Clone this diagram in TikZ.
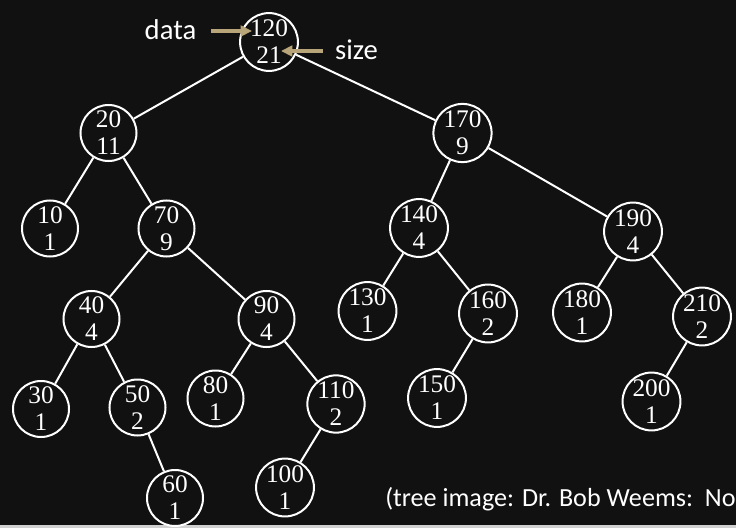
\documentclass[tikz,border=0pt]{standalone}
\usepackage{fontspec}
\setmainfont{Liberation Serif}
\newfontfamily\labelfont{Carlito}
\usetikzlibrary{arrows.meta}
\definecolor{bg}{RGB}{17,17,17}
\definecolor{strip}{RGB}{208,208,208}
\definecolor{tan}{RGB}{185,165,122}
\tikzset{
  tnode/.style={circle, draw=white, line width=1.5pt, minimum size=42pt, inner sep=0pt,
    text=white, align=center, font=\fontsize{19}{20.25}\selectfont},
  tedge/.style={draw=white, line width=1.5pt},
  lbl/.style={text=white, inner sep=0pt, font=\labelfont\fontsize{21.5}{24}\selectfont},
  pointer/.style={draw=tan, line width=3pt, -{Triangle[length=8.5pt,width=8pt]}},
  credit/.style={text=white, inner sep=0pt, anchor=base west, font=\labelfont\fontsize{19.6}{24}\selectfont}
}
\begin{document}
\begin{tikzpicture}[x=0.75pt,y=-0.75pt]
\useasboundingbox (0,0) rectangle (736,528);
\fill[bg] (0,0) rectangle (736,528);
\fill[strip] (0,525) rectangle (736,528);
\clip (0,0) rectangle (736,528);
% nodes
\node[tnode] (n120) at (269,42) {120\\21};
\node[tnode] (n20) at (108.5,133) {20\\11};
\node[tnode] (n170) at (462.5,133) {170\\9};
\node[tnode] (n10) at (50,228.5) {10\\1};
\node[tnode] (n70) at (166.5,228.5) {70\\9};
\node[tnode] (n140) at (419,228) {140\\4};
\node[tnode] (n190) at (633,231.5) {190\\4};
\node[tnode] (n40) at (91.5,319) {40\\4};
\node[tnode] (n90) at (266.5,319) {90\\4};
\node[tnode] (n130) at (367.5,311) {130\\1};
\node[tnode] (n160) at (488,313.5) {160\\2};
\node[tnode] (n180) at (582,312.5) {180\\1};
\node[tnode] (n210) at (702,316.5) {210\\2};
\node[tnode] (n30) at (41,409) {30\\1};
\node[tnode] (n50) at (137.5,407.5) {50\\2};
\node[tnode] (n80) at (215.5,398.5) {80\\1};
\node[tnode] (n110) at (336,404) {110\\2};
\node[tnode] (n150) at (437,398) {150\\1};
\node[tnode] (n200) at (651.5,401.5) {200\\1};
\node[tnode] (n60) at (175,498) {60\\1};
\node[tnode] (n100) at (285,487.5) {100\\1};
% edges
\draw[tedge] (n120) -- (n20);
\draw[tedge] (n120) -- (n170);
\draw[tedge] (n20) -- (n10);
\draw[tedge] (n20) -- (n70);
\draw[tedge] (n70) -- (n40);
\draw[tedge] (n70) -- (n90);
\draw[tedge] (n40) -- (n30);
\draw[tedge] (n40) -- (n50);
\draw[tedge] (n50) -- (n60);
\draw[tedge] (n90) -- (n80);
\draw[tedge] (n90) -- (n110);
\draw[tedge] (n110) -- (n100);
\draw[tedge] (n170) -- (n140);
\draw[tedge] (n170) -- (n190);
\draw[tedge] (n140) -- (n130);
\draw[tedge] (n140) -- (n160);
\draw[tedge] (n160) -- (n150);
\draw[tedge] (n190) -- (n180);
\draw[tedge] (n190) -- (n210);
\draw[tedge] (n210) -- (n200);
% labels and pointers
\node[lbl, anchor=base] (datalbl) at (170.5,39.3) {data};
\node[lbl, anchor=base] (sizelbl) at (356.5,59.3) {size};
\coordinate (datafrom) at (211,31);
\coordinate (datatip) at (252,31);
\coordinate (sizefrom) at (323,51);
\coordinate (sizetip) at (281,51);
\draw[pointer] (datafrom) -- (datatip);
\draw[pointer] (sizefrom) -- (sizetip);
\node[credit] (credit) at (385,506.7) {(tree image: Dr. Bob Weems:\ \ No};
\end{tikzpicture}
\end{document}
